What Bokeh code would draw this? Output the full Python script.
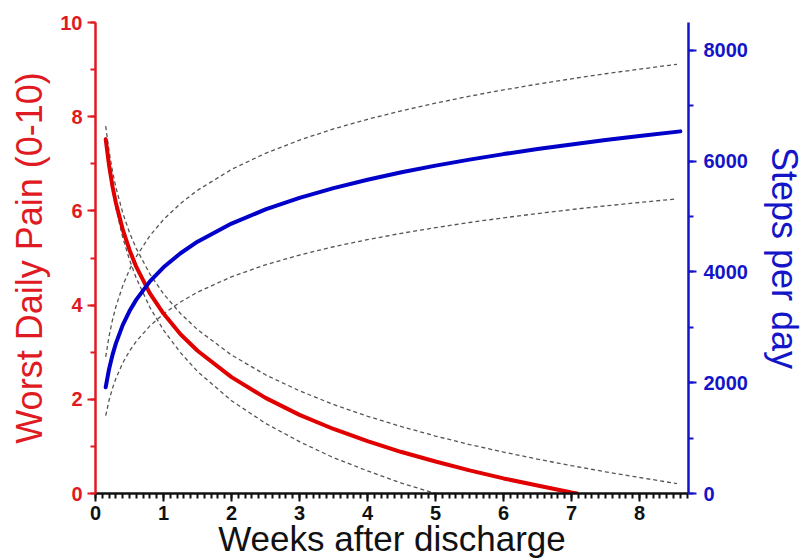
from bokeh.plotting import figure
from bokeh.models import Range1d, LinearAxis, SingleIntervalTicker
from bokeh.embed import file_html
from bokeh.resources import INLINE

# ---- data ----
weeks_pain = [0.15, 0.2, 0.25, 0.3, 0.4, 0.5, 0.6, 0.8, 1.0, 1.25, 1.5, 2.0, 2.5, 3.0, 3.5,
              4.0, 4.5, 5.0, 5.5, 6.0, 6.5, 7.0, 7.08]
pain = [7.52, 6.96, 6.52, 6.17, 5.61, 5.17, 4.81, 4.25, 3.82, 3.38, 3.03, 2.47, 2.03, 1.67, 1.37,
        1.11, 0.88, 0.68, 0.49, 0.32, 0.17, 0.02, 0.0]

weeks = [0.15, 0.2, 0.25, 0.3, 0.4, 0.5, 0.6, 0.8, 1.0, 1.25, 1.5, 2.0, 2.5, 3.0, 3.5, 4.0,
         4.5, 5.0, 5.5, 6.0, 6.5, 7.0, 7.5, 8.0, 8.55]
pain_upper = [7.80, 7.26, 6.84, 6.50, 5.96, 5.54, 5.20, 4.66, 4.24, 3.82, 3.48, 2.94, 2.52, 2.18,
              1.89, 1.64, 1.42, 1.22, 1.04, 0.88, 0.73, 0.59, 0.46, 0.34, 0.21]
weeks_pain_lower = [0.15, 0.2, 0.25, 0.3, 0.4, 0.5, 0.6, 0.8, 1.0, 1.25, 1.5, 2.0, 2.5, 3.0,
                    3.5, 4.0, 4.5, 5.0]
pain_lower = [7.56, 6.94, 6.46, 6.06, 5.44, 4.96, 4.57, 3.95, 3.47, 2.99, 2.59, 1.97, 1.49, 1.10,
              0.76, 0.48, 0.22, 0.0]

weeks_steps = [0.15, 0.2, 0.25, 0.3, 0.4, 0.5, 0.6, 0.8, 1.0, 1.25, 1.5, 2.0, 2.5, 3.0, 3.5, 4.0,
               4.5, 5.0, 5.5, 6.0, 6.5, 7.0, 7.5, 8.0, 8.6]
steps = [1919, 2248, 2502, 2709, 3038, 3292, 3499, 3828, 4082, 4336, 4544, 4872, 5126, 5335, 5510,
         5662, 5797, 5917, 6025, 6125, 6216, 6300, 6379, 6453, 6535]
steps_upper = [2466, 2842, 3133, 3371, 3747, 4038, 4276, 4652, 4943, 5234, 5472, 5848, 6139, 6378,
               6579, 6753, 6907, 7044, 7170, 7283, 7388, 7484, 7575, 7658, 7746]
steps_lower = [1406, 1684, 1900, 2076, 2355, 2571, 2747, 3025, 3241, 3457, 3633, 3911, 4127, 4304,
               4453, 4582, 4696, 4798, 4891, 4975, 5052, 5124, 5191, 5252, 5317]

x_label = "Weeks after discharge"
y_label = "Worst Daily Pain (0-10)"
y2_label = "Steps per day"

RED = "#e01a22"
BLUE = "#1414c8"
DASH = "#555555"
FONT = "Liberation Sans"

p = figure(width=807, height=560, output_backend="svg", toolbar_location=None,
           x_range=Range1d(0, 8.72), y_range=Range1d(0, 10))
p.extra_y_ranges = {"steps": Range1d(0, 8500)}
p.min_border_left = 95
p.min_border_right = 119
p.min_border_top = 22
p.min_border_bottom = 67
p.outline_line_color = None
p.xgrid.visible = False
p.ygrid.visible = False
p.background_fill_color = "white"
p.border_fill_color = "white"

# dashed confidence bands
p.line(weeks, pain_upper, line_color=DASH, line_width=1.3, line_dash="4 3")
p.line(weeks_pain_lower, pain_lower, line_color=DASH, line_width=1.3, line_dash="4 3")
p.line(weeks, steps_upper, y_range_name="steps", line_color=DASH, line_width=1.3, line_dash="4 3")
p.line(weeks, steps_lower, y_range_name="steps", line_color=DASH, line_width=1.3, line_dash="4 3")

# main curves
p.line(weeks_pain, pain, line_color="#e00000", line_width=4, line_cap="round")
p.line(weeks_steps, steps, y_range_name="steps", line_color="#0000c8", line_width=4, line_cap="round")

def style(ax, color, label_color):
    ax.axis_line_color = color
    ax.axis_line_width = 2.5
    ax.major_tick_line_color = color
    ax.minor_tick_line_color = color
    ax.major_tick_line_width = 2
    ax.minor_tick_line_width = 2
    ax.major_tick_out = 8
    ax.major_tick_in = 0
    ax.minor_tick_out = 5
    ax.minor_tick_in = 0
    ax.major_label_text_color = label_color
    ax.major_label_text_font = FONT
    ax.major_label_text_font_style = "bold"
    ax.major_label_text_font_size = "20px"
    ax.axis_label_text_color = label_color
    ax.axis_label_text_font = FONT
    ax.axis_label_text_font_style = "normal"

xa = p.xaxis[0]
xa.ticker = SingleIntervalTicker(interval=1, num_minor_ticks=10)
style(xa, "#111111", "#111111")
xa.axis_label = x_label
xa.axis_label_text_font_size = "35px"
xa.major_label_standoff = 4
xa.axis_label_standoff = -4

ya = p.yaxis[0]
ya.ticker = SingleIntervalTicker(interval=2, num_minor_ticks=2)
style(ya, RED, RED)
ya.axis_label = y_label
ya.axis_label_text_font_size = "36px"
ya.major_label_standoff = 5
ya.axis_label_standoff = 7

ra = LinearAxis(y_range_name="steps", ticker=SingleIntervalTicker(interval=2000, num_minor_ticks=2))
style(ra, BLUE, BLUE)
ra.axis_label = y2_label
ra.axis_label_text_font_size = "36px"
ra.major_label_standoff = 7
ra.axis_label_standoff = 13
p.add_layout(ra, "right")

open("out.html", "w").write(file_html(p, INLINE))
